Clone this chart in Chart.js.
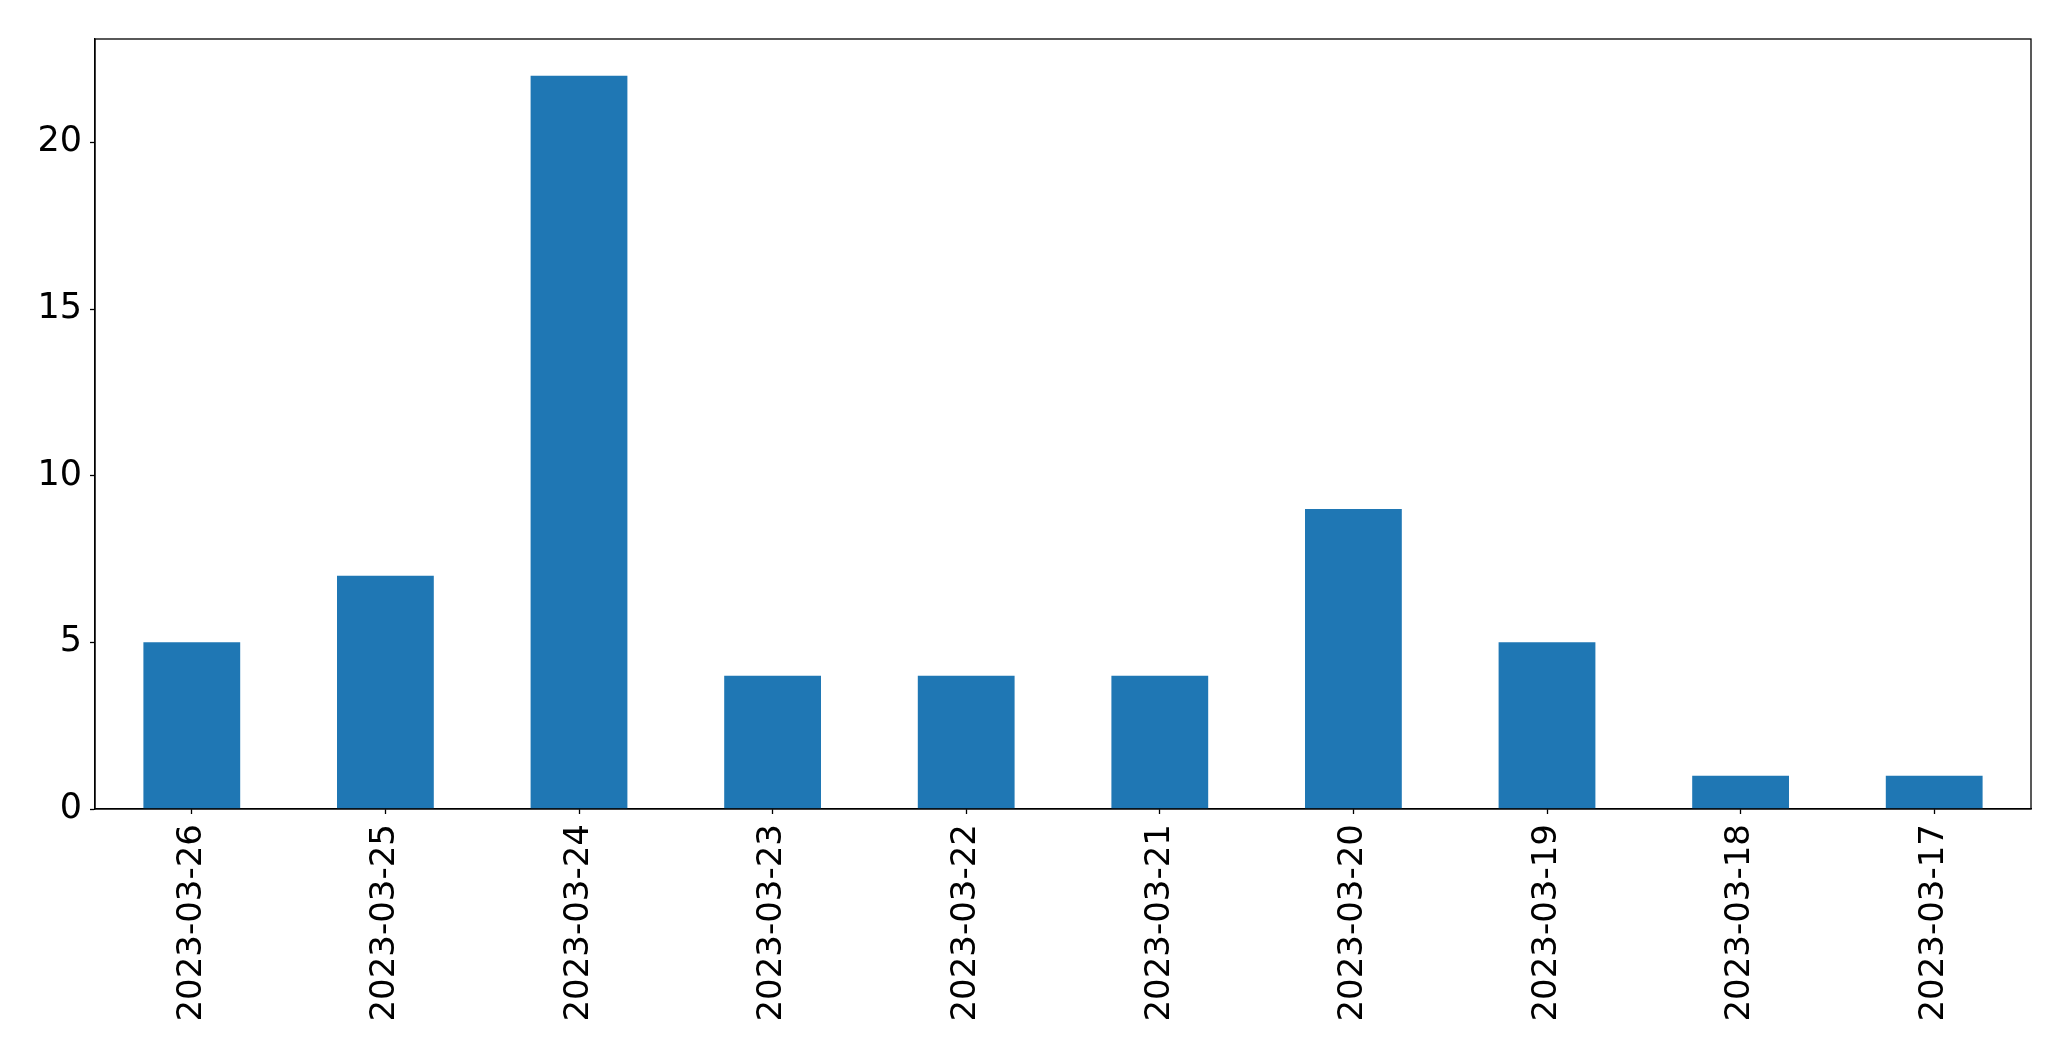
<!DOCTYPE html>
<html>
<head>
<meta charset="utf-8">
<script src="https://cdn.jsdelivr.net/npm/chart.js@4"></script>
<style>
    body { margin: 0; background: white; }
    #wrap { width: 2071px; height: 1061px; }
</style>
</head>
<body>
<div id="wrap"><canvas id="barChart" width="2071" height="1061"></canvas></div>
<script>
const dates = ['2023-03-26', '2023-03-25', '2023-03-24', '2023-03-23', '2023-03-22',
               '2023-03-21', '2023-03-20', '2023-03-19', '2023-03-18', '2023-03-17'];
const counts = [5, 7, 22, 4, 4, 4, 9, 5, 1, 1];
const yTicks = [0, 5, 10, 15, 20];

// draws the top and right edges of the axes box
const frameBox = {
    id: 'frameBox',
    afterDraw(chart) {
        const { ctx, chartArea: a } = chart;
        ctx.save();
        ctx.strokeStyle = 'black';
        ctx.lineWidth = 1.3;
        ctx.strokeRect(a.left, a.top, a.right - a.left, a.bottom - a.top);
        ctx.restore();
    }
};

const ctx = document.getElementById('barChart').getContext('2d');
new Chart(ctx, {
    type: 'bar',
    data: {
        labels: dates,
        datasets: [{
            data: counts,
            backgroundColor: '#1f77b4',
            barPercentage: 0.5,
            categoryPercentage: 1.0
        }]
    },
    options: {
        responsive: false,
        animation: false,
        layout: { padding: { top: 39, right: 40, left: 0, bottom: 0 } },
        plugins: {
            legend: { display: false },
            tooltip: { enabled: false }
        },
        scales: {
            x: {
                offset: true,
                grid: {
                    offset: false,
                    drawOnChartArea: false,
                    drawTicks: true,
                    tickLength: 5,
                    tickWidth: 1.3,
                    tickColor: 'black'
                },
                border: { display: true, color: 'black', width: 1.3 },
                ticks: {
                    color: 'black',
                    minRotation: 90,
                    maxRotation: 90,
                    padding: 10,
                    font: { family: 'DejaVu Sans', size: 34 }
                },
                afterFit: (scale) => { scale.height = 252; }
            },
            y: {
                min: 0,
                max: 23.1,
                grid: {
                    drawOnChartArea: false,
                    drawTicks: true,
                    tickLength: 5,
                    tickWidth: 1.3,
                    tickColor: 'black'
                },
                border: { display: true, color: 'black', width: 1.3 },
                ticks: {
                    color: 'black',
                    stepSize: 5,
                    padding: 8,
                    font: { family: 'DejaVu Sans', size: 35 }
                },
                afterBuildTicks: (scale) => {
                    scale.ticks = yTicks.map(v => ({ value: v }));
                },
                afterFit: (scale) => { scale.width = 95; }
            }
        }
    },
    plugins: [frameBox]
});
</script>
</body>
</html>
